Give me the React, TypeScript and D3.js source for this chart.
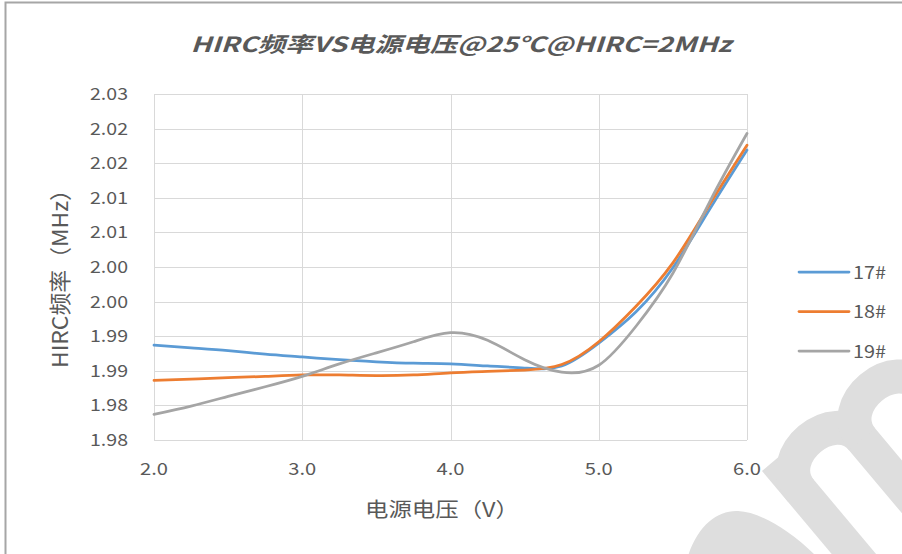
import * as d3 from 'd3';
import React from 'react';

// supply voltage (V) read at 0.25 V steps
const voltages = [2.0, 2.25, 2.5, 2.75, 3.0, 3.25, 3.5, 3.75, 4.0, 4.25, 4.5, 4.75, 5.0, 5.25, 5.5, 5.75, 6.0];

// HIRC frequency (MHz) per sample
const s17 = [1.9937, 1.9933, 1.9929, 1.9924, 1.9920, 1.9916, 1.9913, 1.9911, 1.9910, 1.9907, 1.9904, 1.9907, 1.9940, 1.9985, 2.0049, 2.0134, 2.0219];
const s18 = [1.9886, 1.9888, 1.9890, 1.9892, 1.9894, 1.9894, 1.9893, 1.9894, 1.9897, 1.9899, 1.9901, 1.9909, 1.9942, 1.9993, 2.0056, 2.0141, 2.0226];
const s19 = [1.9837, 1.9849, 1.9863, 1.9877, 1.9892, 1.9910, 1.9926, 1.9942, 1.9955, 1.9944, 1.9916, 1.9898, 1.9908, 1.9964, 2.0041, 2.0145, 2.0243];

const seriesNames = ['17#', '18#', '19#'];
const colours = ['#5B9BD5', '#ED7D31', '#A5A5A5'];

const xTicks = [2, 3, 4, 5, 6];
const xTickLabels = ['2.0', '3.0', '4.0', '5.0', '6.0'];
const yTicks = [1.98, 1.985, 1.99, 1.995, 2.0, 2.005, 2.01, 2.015, 2.02, 2.025, 2.03];
const yTickLabels = ['1.98', '1.98', '1.99', '1.99', '2.00', '2.00', '2.01', '2.01', '2.02', '2.02', '2.03'];

const title = 'HIRC频率VS电源电压@25℃@HIRC=2MHz';
const xTitle = '电源电压（V）';
const yTitle = 'HIRC频率（MHz）';

const width = 902;
const height = 554;
const plot = {left: 154, right: 747, top: 94, bottom: 440};
const font = '"Noto Sans CJK SC", "Noto Sans", sans-serif';
const textColour = '#595959';

export default function App() {
  const x = d3.scaleLinear().domain([2, 6]).range([plot.left, plot.right]);
  const y = d3.scaleLinear().domain([1.98, 2.03]).range([plot.bottom, plot.top]);

  const line = d3.line<number>()
    .x((_, i) => x(voltages[i]))
    .y(d => y(d))
    .curve(d3.curveNatural);

  const series = [s17, s18, s19];

  return (
    <svg width={width} height={height} style={{position: 'absolute', left: 0, top: 0, background: '#fff'}}
         fontFamily={font}>
      <rect x={0} y={0} width={width} height={height} fill="#fff"/>
      {/* outer chart frame */}
      <rect x={5.5} y={2.5} width={1000} height={1000} fill="none" stroke="#A6A6A6" strokeWidth={2}/>

      {/* watermark */}
      <g fill="#DEDEDE" stroke="#DEDEDE">
        <g transform="translate(775,460) rotate(-40)">
          <rect x={-17} y={0} width={34} height={260} stroke="none"/>
          <path d="M0,40 C0,-5 80,-5 80,40 L80,260" fill="none" strokeWidth={34}/>
          <path d="M80,40 C80,-5 160,-5 160,40 L160,260" fill="none" strokeWidth={34}/>
        </g>
        <path d="M688,556 C698,525 718,510 738,511 C760,512 790,530 816,556 Z" stroke="none"/>
      </g>

      {/* grid */}
      <g stroke="#D9D9D9" strokeWidth={1}>
        {yTicks.map(t => (
          <line key={'h' + t} x1={plot.left} x2={plot.right} y1={Math.round(y(t)) + 0.5} y2={Math.round(y(t)) + 0.5}/>
        ))}
        {xTicks.map(t => (
          <line key={'v' + t} x1={Math.round(x(t)) + 0.5} x2={Math.round(x(t)) + 0.5} y1={plot.top} y2={plot.bottom}/>
        ))}
      </g>

      {/* series */}
      {series.map((s, i) => (
        <path key={seriesNames[i]} d={line(s) || ''} fill="none" stroke={colours[i]} strokeWidth={2.75}
              strokeLinejoin="round" strokeLinecap="round"/>
      ))}

      {/* y tick labels */}
      <g fill={textColour} fontSize={17} textAnchor="end">
        {yTicks.map((t, i) => (
          <text key={i} x={128} y={y(t) + 6} textLength={38} lengthAdjust="spacingAndGlyphs">{yTickLabels[i]}</text>
        ))}
      </g>

      {/* x tick labels */}
      <g fill={textColour} fontSize={17} textAnchor="middle">
        {xTicks.map((t, i) => (
          <text key={i} x={x(t)} y={475} textLength={28} lengthAdjust="spacingAndGlyphs">{xTickLabels[i]}</text>
        ))}
      </g>

      {/* titles */}
      <text x={461} y={52} textAnchor="middle" fill={textColour} fontSize={21} fontWeight="bold" fontStyle="italic"
            textLength={541} lengthAdjust="spacingAndGlyphs">{title}</text>
      <text x={442} y={517} textAnchor="middle" fill={textColour} fontSize={20}
            textLength={154} lengthAdjust="spacingAndGlyphs">{xTitle}</text>
      <text transform="translate(60,273) rotate(-90)" textAnchor="middle" dy="0.36em" fill={textColour} fontSize={22}
            textLength={190} lengthAdjust="spacingAndGlyphs">{yTitle}</text>

      {/* legend */}
      {seriesNames.map((name, i) => {
        const ly = 272 + i * 39.5;
        return (
          <g key={name}>
            <line x1={799} x2={849} y1={ly} y2={ly} stroke={colours[i]} strokeWidth={2.75} strokeLinecap="round"/>
            <text x={853} y={ly + 6.5} fill={textColour} fontSize={18} textLength={33}
                  lengthAdjust="spacingAndGlyphs">{name}</text>
          </g>
        );
      })}
    </svg>
  );
}
